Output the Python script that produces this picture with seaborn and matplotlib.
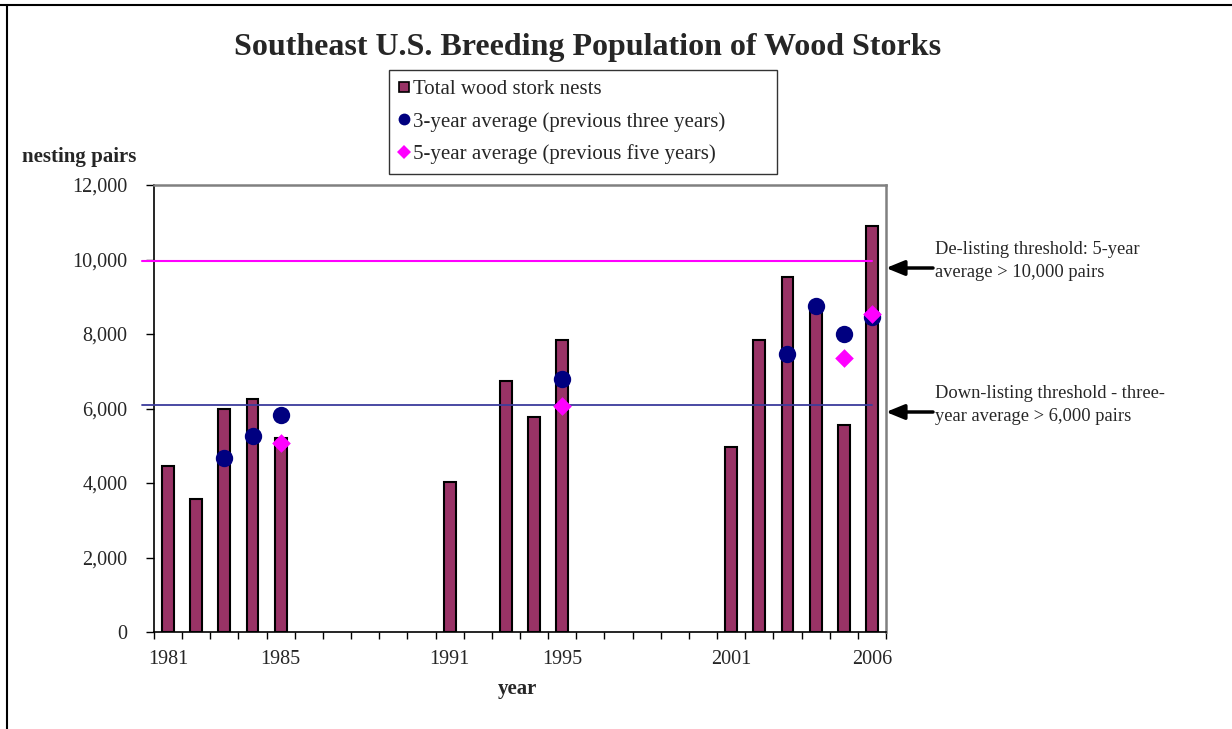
import numpy as np
import pandas as pd
import matplotlib
matplotlib.use("Agg")
import matplotlib.pyplot as plt
from matplotlib.lines import Line2D
from matplotlib.ticker import FuncFormatter, FixedLocator
import seaborn as sns

# ---------------- data ----------------
all_years = [str(y) for y in range(1981, 2007)]
nest_years = ["1981", "1982", "1983", "1984", "1985", "1991", "1993", "1994", "1995",
              "2001", "2002", "2003", "2004", "2005", "2006"]
nests = [4460, 3570, 6000, 6260, 5200, 4030, 6750, 5760, 7840,
         4970, 7840, 9520, 8800, 5550, 10900]
avg3_years = ["1983", "1984", "1985", "1995", "2003", "2004", "2005", "2006"]
avg3 = [4680, 5260, 5830, 6800, 7460, 8750, 8000, 8450]
avg5_years = ["1985", "1995", "2005", "2006"]
avg5 = [5070, 6080, 7350, 8540]
threshold_down = 6100
threshold_de = 9970
tick_label_years = ["1981", "1985", "1991", "1995", "2001", "2006"]

# ---------------- style ----------------
sns.set_style("white")
plt.rcParams["font.family"] = ["Liberation Serif", "DejaVu Serif"]

W, H = 1232, 729
fig = plt.figure(figsize=(W / 100, H / 100), dpi=100)
ax = fig.add_axes([154 / W, 1 - 632 / H, (886 - 154) / W, (632 - 185) / H])

bar_df = pd.DataFrame({"year": nest_years, "nests": nests})
a3_df = pd.DataFrame({"year": avg3_years, "val": avg3})
a5_df = pd.DataFrame({"year": avg5_years, "val": avg5})

sns.barplot(data=bar_df, x="year", y="nests", order=all_years, ax=ax,
            color="#993366", saturation=1, width=0.42,
            edgecolor="black", linewidth=1.5, zorder=2)

# threshold lines
xl = [-0.93, 25.0]
ax.plot(xl, [threshold_de] * 2, color="#FF00FF", lw=1.5, clip_on=False, zorder=3)
ax.plot(xl, [threshold_down] * 2, color="#3C3C9C", lw=1.3, clip_on=False, zorder=3)

sns.stripplot(data=a3_df, x="year", y="val", order=all_years, ax=ax, jitter=False,
              color="#000080", size=12.5, marker="o", linewidth=0, zorder=4)
sns.stripplot(data=a5_df, x="year", y="val", order=all_years, ax=ax, jitter=False,
              color="#FF00FF", size=9.5, marker="D", linewidth=0, zorder=5)

ax.set_xlim(-0.5, len(all_years) - 0.5)
ax.set_ylim(0, 12000)
ax.set_xlabel("")
ax.set_ylabel("")

FS = 14.5

# y ticks
ax.set_yticks(np.arange(0, 12001, 2000))
ax.yaxis.set_major_formatter(FuncFormatter(lambda v, p: f"{int(v):,}"))
ax.tick_params(axis="y", which="major", left=True, length=6, width=1, pad=13,
               labelsize=FS, color="black")

# x ticks: labels at selected years, tick marks at boundaries
pos = [all_years.index(y) for y in tick_label_years]
ax.set_xticks(pos)
ax.set_xticklabels(tick_label_years)
ax.xaxis.set_minor_locator(FixedLocator(np.arange(-0.5, len(all_years), 1.0)))
ax.tick_params(axis="x", which="major", bottom=True, length=0, pad=13, labelsize=FS)
ax.tick_params(axis="x", which="minor", bottom=True, length=5, width=1, color="black")

for s in ["left", "bottom"]:
    ax.spines[s].set_color("black")
    ax.spines[s].set_linewidth(1.2)
for s in ["top", "right"]:
    ax.spines[s].set_color("#808080")
    ax.spines[s].set_linewidth(1.8)
ax.grid(False)

# titles / labels
fig.text(588 / W, 1 - 48 / H, "Southeast U.S. Breeding Population of Wood Storks",
         ha="center", va="center", fontsize=23, fontweight="bold")
fig.text(22 / W, 1 - 157 / H, "nesting pairs", ha="left", va="center",
         fontsize=15, fontweight="bold")
fig.text(517 / W, 1 - 689 / H, "year", ha="center", va="center",
         fontsize=15, fontweight="bold")

# legend
handles = [
    Line2D([], [], marker="s", linestyle="none", markersize=7.5,
           markerfacecolor="#993366", markeredgecolor="black", markeredgewidth=1.2),
    Line2D([], [], marker="o", linestyle="none", markersize=8.5,
           markerfacecolor="#000080", markeredgewidth=0),
    Line2D([], [], marker="D", linestyle="none", markersize=7,
           markerfacecolor="#FF00FF", markeredgewidth=0),
]
labels = ["Total wood stork nests", "3-year average (previous three years)",
          "5-year average (previous five years)"]
leg = fig.legend(handles, labels, loc="upper left",
                 bbox_to_anchor=(389 / W, 1 - 172 / H, 388 / W, 102 / H), mode="expand",
                 frameon=True, fancybox=False,
                 edgecolor="black", fontsize=15, handlelength=0.55, handletextpad=0.15,
                 borderpad=0.45, labelspacing=0.62, borderaxespad=0)
leg.get_frame().set_linewidth(1.0)

# annotations with arrows
arrow_style = dict(arrowstyle="-|>,head_length=1.1,head_width=0.45",
                   color="black", lw=2.5, shrinkA=0, shrinkB=0)
ax.annotate("", xy=(886 / W, 1 - 268 / H), xytext=(933 / W, 1 - 268 / H),
            xycoords="figure fraction", textcoords="figure fraction",
            arrowprops=arrow_style)
ax.annotate("", xy=(886 / W, 1 - 412 / H), xytext=(933 / W, 1 - 412 / H),
            xycoords="figure fraction", textcoords="figure fraction",
            arrowprops=arrow_style)
fig.text(935 / W, 1 - 261 / H, "De-listing threshold: 5-year\naverage > 10,000 pairs",
         ha="left", va="center", fontsize=13.3, linespacing=1.45)
fig.text(935 / W, 1 - 405 / H, "Down-listing threshold - three-\nyear average > 6,000 pairs",
         ha="left", va="center", fontsize=13.3, linespacing=1.45)

# outer border (top and left edges)
fig.add_artist(Line2D([0, 1], [1 - 5 / H, 1 - 5 / H], transform=fig.transFigure,
                      color="black", lw=1.5))
fig.add_artist(Line2D([7 / W, 7 / W], [0, 1 - 5 / H], transform=fig.transFigure,
                      color="black", lw=1.5))

fig.savefig("out.png", dpi=100)
